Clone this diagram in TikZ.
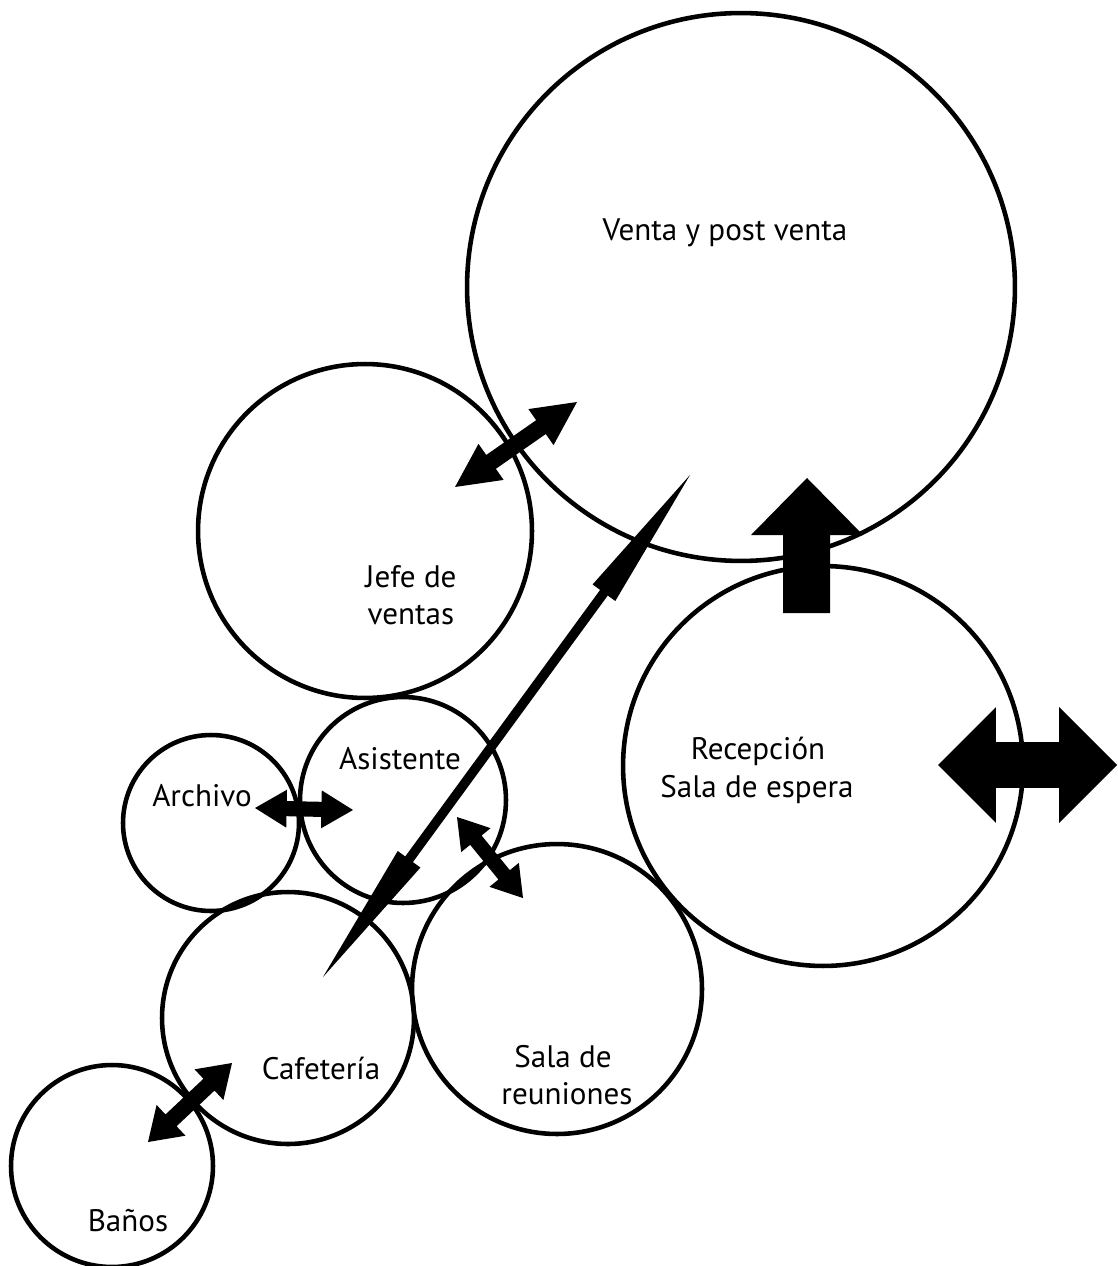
\documentclass[tikz,border=0pt]{standalone}
\usepackage{fontspec}
\setmainfont{PT Sans}
\usetikzlibrary{calc}
\tikzset{
  room/.style={circle, draw, line width=2.6pt, inner sep=0pt},
  lbl/.style={font=\fontsize{17.7}{21.5}\selectfont, inner sep=0pt, anchor=base},
}
% #1 A, #2 B, #3 head length, #4 head half width, #5 shaft half width
\newcommand\dblarrow[5]{%
  \fill (#1) -- ($(#1)!#3!(#2)!#4!90:(#2)$) -- ($(#1)!#3!(#2)!#5!90:(#2)$)
    -- ($(#2)!#3!(#1)!#5!-90:(#1)$) -- ($(#2)!#3!(#1)!#4!-90:(#1)$) -- (#2)
    -- ($(#2)!#3!(#1)!#4!90:(#1)$) -- ($(#2)!#3!(#1)!#5!90:(#1)$)
    -- ($(#1)!#3!(#2)!#5!-90:(#2)$) -- ($(#1)!#3!(#2)!#4!-90:(#2)$) -- cycle;}
\begin{document}
\begin{tikzpicture}[x=0.02cm, y=-0.02cm]
\useasboundingbox (0,0) rectangle (1117,1266);
% rooms
\node[room, minimum size=10.96cm] (venta) at (741,287) {};
\node[room, minimum size=6.68cm] (jefe) at (365,531) {};
\node[room, minimum size=8cm] (recep) at (823,766) {};
\node[room, minimum size=4.12cm] (asist) at (403,800) {};
\node[room, minimum size=3.52cm] (archivo) at (211,823) {};
\node[room, minimum size=5.04cm] (cafe) at (288,1018) {};
\node[room, minimum size=5.8cm] (reun) at (557,989) {};
\node[room, minimum size=4.04cm] (banos) at (112,1166) {};
% labels
\node[lbl] (tventa) at (725,241) {Venta y post venta};
\node[lbl] (tjefe1) at (411,587) {Jefe de};
\node[lbl] (tjefe2) at (411,624) {ventas};
\node[lbl] (tasist) at (400,769) {Asistente};
\node[lbl] (tarch) at (202,806) {Archivo};
\node[lbl] (trec1) at (758,759) {Recepción};
\node[lbl] (trec2) at (757,797) {Sala de espera};
\node[lbl] (tcafe) at (321,1079) {Cafetería};
\node[lbl] (treun1) at (563,1067) {Sala de};
\node[lbl] (treun2) at (567,1104) {reuniones};
\node[lbl] (tbanos) at (128,1231) {Baños};
% arrow end points
\coordinate (jv1) at (455,487);   \coordinate (jv2) at (577,402);
\coordinate (aa1) at (255,808);   \coordinate (aa2) at (353,810);
\coordinate (ar1) at (457,817);   \coordinate (ar2) at (523,898);
\coordinate (cb1) at (232,1063);  \coordinate (cb2) at (148,1142);
\coordinate (sp1) at (323,977);   \coordinate (sp2) at (690,475);
\coordinate (hz1) at (938,765);   \coordinate (hz2) at (1117,765);
% arrows
\dblarrow{jv1}{jv2}{25pt}{12.5pt}{4.8pt}
\dblarrow{aa1}{aa2}{18pt}{10.8pt}{4.3pt}
\dblarrow{ar1}{ar2}{17pt}{10.8pt}{4.2pt}
\dblarrow{cb1}{cb2}{18pt}{12pt}{4.6pt}
\dblarrow{sp1}{sp2}{83pt}{8pt}{2.7pt}
\dblarrow{hz1}{hz2}{33pt}{33pt}{13pt}
% upward block arrow
\coordinate (up1) at (806.5,613); \coordinate (up2) at (807,478);
\fill (up2) -- (863,535) -- (830,535) -- (830,613) -- (783,613) -- (783,535) -- (751,535) -- cycle;
\end{tikzpicture}
\end{document}
